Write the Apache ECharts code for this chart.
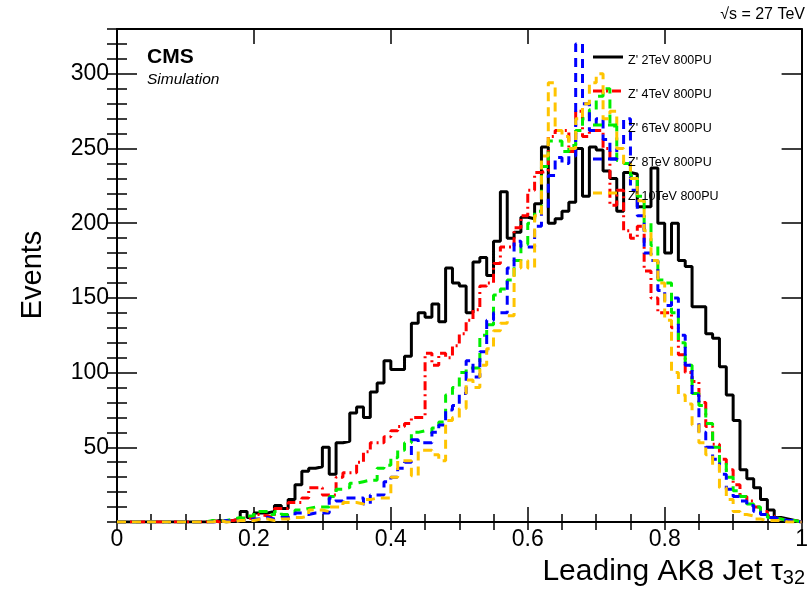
<!DOCTYPE html>
<html>
<head>
<meta charset="utf-8">
<script src="https://cdn.jsdelivr.net/npm/echarts@6/dist/echarts.min.js"></script>
<style>
  html, body { margin: 0; padding: 0; background: #ffffff; }
  #chart { width: 811px; height: 593px; }
</style>
</head>
<body>
<div id="chart"></div>
<script>
// Histogram binning of the leading-jet tau32 distribution
const binWidth = 0.01;
const xTickValues = [0, 0.2, 0.4, 0.6, 0.8, 1];
const yTickValues = [50, 100, 150, 200, 250, 300];

const seriesNames = ["Z' 2TeV 800PU", "Z' 4TeV 800PU", "Z' 6TeV 800PU", "Z' 8TeV 800PU", "Z' 10TeV 800PU"];

// Events per bin (100 bins from 0 to 1)
const zp2TeV = [
  0,0,0,0,0,0,0,0,0,0,0,0,0,0,
  1,0,1,2,
  7,3,6,6,7,11,9,15,25,34,36,37,50,32,
  53,54,73,77,70,87,93,108,102,102,111,133,140,137,146,
  134,170,160,158,140,174,177,165,188,221,190,194,204,203,213,251,
  200,203,208,214,250,218,251,249,235,230,208,234,233,211,211,237,
  200,180,200,175,171,144,144,126,123,104,85,68,35,29,23,15,8,3,2,1,0
];
const zp4TeV = [
  0,0,0,0,0,0,0,0,0,0,0,0,0,
  1,0,1,1,2,
  3,2,5,4,3,9,9,13,13,16,23,23,18,18,
  30,33,33,40,47,53,53,57,61,64,66,70,70,113,105,
  113,110,118,126,135,142,158,160,173,184,184,197,205,222,234,235,
  258,262,262,248,275,258,262,262,250,212,222,195,190,198,168,150,
  140,140,130,112,100,94,80,64,52,42,35,25,17,14,10,7,4,2,1,1,0
];
const zp6TeV = [
  0,0,0,0,0,0,0,0,0,0,0,0,0,
  1,0,1,2,3,
  2,4,7,7,5,7,5,6,8,9,10,10,10,17,
  22,23,26,27,28,28,36,38,43,48,53,60,61,60,63,
  67,85,90,100,103,103,125,132,152,156,162,175,186,200,208,238,
  255,255,248,252,262,270,276,285,290,265,242,240,232,218,200,185,
  162,160,140,120,105,86,78,66,50,40,30,21,17,12,10,5,3,2,1,1,0
];
const zp8TeV = [
  0,0,0,0,0,0,0,0,0,0,0,0,0,
  0,0,1,0,1,
  1,2,2,3,2,3,3,4,6,5,6,6,6,16,
  14,16,16,16,12,18,18,27,30,36,40,55,53,53,60,
  65,75,78,86,108,97,114,135,140,140,170,188,184,184,198,210,
  232,244,240,245,320,280,262,270,256,243,250,270,222,205,180,175,
  155,145,150,125,105,85,60,50,42,32,22,17,14,11,7,5,3,2,1,1,0
];
const zp10TeV = [
  0,0,0,0,0,0,0,0,0,0,0,0,0,
  0,1,0,0,1,
  1,1,2,2,1,2,2,3,3,4,8,8,7,10,
  10,13,13,12,15,16,16,16,30,41,41,31,48,48,45,
  41,68,70,76,95,90,105,116,128,133,138,170,175,170,205,245,
  294,262,258,250,270,280,294,300,270,275,250,240,230,215,195,175,
  160,135,100,85,79,65,53,45,38,23,15,7,5,4,2,1,1,1,0,0,0
];

const allCounts = [zp2TeV, zp4TeV, zp6TeV, zp8TeV, zp10TeV];
const lineColors = ['#000000', '#ff0000', '#00ee00', '#0000ff', '#ffc400'];
const lineDashes = ['solid', [9, 4, 2, 4], [9, 6], [9, 6], [9, 6]];

// Step points: each bin contributes its left edge, plus the closing right edge
function histPoints(counts) {
  const pts = counts.map((v, i) => [i * binWidth, v]);
  pts.push([counts.length * binWidth, counts[counts.length - 1]]);
  return pts;
}

const FONT = '"Liberation Sans", Arial, Helvetica, sans-serif';
const gridBox = { left: 117, top: 29, right: 7, bottom: 71 };

const chart = echarts.init(document.getElementById('chart'), null, { renderer: 'canvas' });

function frameX(position, interval, tickLen, showLabels) {
  return {
    type: 'value', position: position, min: 0, max: 1, interval: interval,
    axisLine: { show: true, onZero: false, lineStyle: { color: '#000', width: 2 } },
    axisTick: { show: true, inside: true, length: tickLen, lineStyle: { color: '#000', width: 1.5 } },
    axisLabel: showLabels ? {
      show: true, color: '#000', fontFamily: FONT, fontSize: 23, margin: 6,
      formatter: v => (xTickValues.some(t => Math.abs(t - v) < 1e-9) ? String(+v.toFixed(1)) : '')
    } : { show: false },
    splitLine: { show: false }
  };
}
function frameY(position, interval, tickLen, showLabels) {
  return {
    type: 'value', position: position, min: 0, max: 330, interval: interval,
    axisLine: { show: true, onZero: false, lineStyle: { color: '#000', width: 2 } },
    axisTick: { show: true, inside: true, length: tickLen, lineStyle: { color: '#000', width: 1.5 } },
    axisLabel: showLabels ? {
      show: true, color: '#000', fontFamily: FONT, fontSize: 23, margin: 8,
      showMaxLabel: false,
      formatter: v => (yTickValues.indexOf(v) >= 0 ? String(v) : '')
    } : { show: false },
    splitLine: { show: false }
  };
}

const series = allCounts.map((counts, k) => ({
  name: seriesNames[k],
  type: 'line',
  step: 'end',
  xAxisIndex: 0,
  yAxisIndex: 0,
  data: histPoints(counts),
  symbol: 'none',
  clip: true,
  silent: true,
  animation: false,
  lineStyle: { color: lineColors[k], width: 3, type: lineDashes[k] },
  z: 2 + k
}));

// Legend block drawn as sample lines with labels
const legendTop = 57, legendStep = 34;
const legendGraphics = [];
seriesNames.forEach((name, k) => {
  const y = legendTop + k * legendStep;
  legendGraphics.push({
    type: 'line', z: 50,
    shape: { x1: 593, y1: y, x2: 623, y2: y },
    style: { stroke: lineColors[k], lineWidth: 3, lineDash: lineDashes[k] === 'solid' ? null : lineDashes[k] }
  });
  legendGraphics.push({
    type: 'text', z: 51, x: 628, y: y + 4,
    style: { text: name, fill: '#000', font: '12.5px ' + FONT, textVerticalAlign: 'middle', textAlign: 'left' }
  });
});

chart.setOption({
  backgroundColor: '#ffffff',
  animation: false,
  grid: Object.assign({ show: false }, gridBox),
  xAxis: [
    frameX('bottom', 0.2, 15, true),
    frameX('top', 0.2, 15, false),
    Object.assign(frameX('bottom', 0.05, 8, false), { axisLine: { show: false } }),
    Object.assign(frameX('top', 0.05, 8, false), { axisLine: { show: false } })
  ],
  yAxis: [
    frameY('left', 50, 20, true),
    frameY('right', 50, 20, false),
    Object.assign(frameY('left', 10, 10, false), { axisLine: { show: false } }),
    Object.assign(frameY('right', 10, 10, false), { axisLine: { show: false } })
  ],
  series: series,
  graphic: [
    { type: 'text', x: 805, y: 15, style: { text: '√s = 27 TeV', fill: '#000', font: '16px ' + FONT, textAlign: 'right', textVerticalAlign: 'middle' } },
    { type: 'text', x: 147, y: 57, style: { text: 'CMS', fill: '#000', font: 'bold 21px ' + FONT, textAlign: 'left', textVerticalAlign: 'middle' } },
    { type: 'text', x: 147, y: 80, style: { text: 'Simulation', fill: '#000', font: 'italic 15.5px ' + FONT, textAlign: 'left', textVerticalAlign: 'middle' } },
    { type: 'text', x: 33, y: 275, rotation: Math.PI / 2, style: { text: 'Events', fill: '#000', font: '29px ' + FONT, textAlign: 'center', textVerticalAlign: 'middle' } },
    {
      type: 'text', x: 805, y: 572,
      style: {
        text: '{m|Leading AK8 Jet }{t|τ}{s|32}',
        textAlign: 'right', textVerticalAlign: 'middle',
        rich: {
          m: { font: '30px ' + FONT, fill: '#000' },
          t: { font: '30px ' + FONT, fill: '#000' },
          s: { font: '20px ' + FONT, fill: '#000', padding: [13, 0, 0, 0] }
        }
      }
    }
  ].concat(legendGraphics)
});
</script>
</body>
</html>
